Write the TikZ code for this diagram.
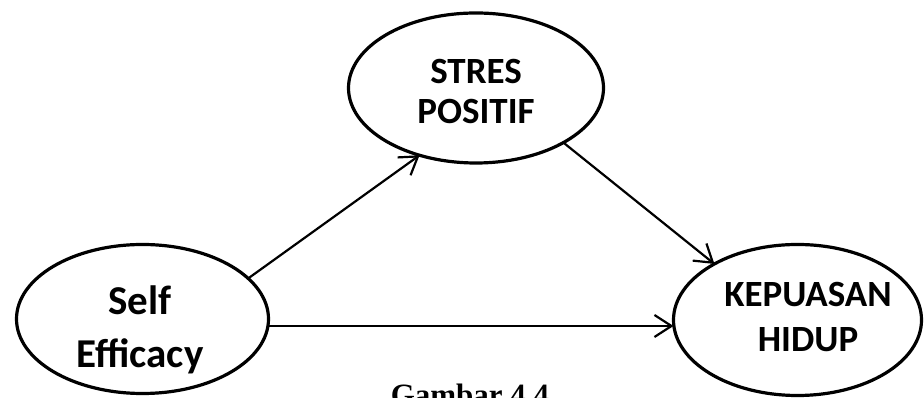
\documentclass[tikz,border=0pt]{standalone}
\usepackage{fontspec}
\setmainfont{Carlito}
\newfontfamily\capfont{Liberation Serif}
\usetikzlibrary{shapes.geometric,arrows.meta}
\tikzset{
  oval/.style={draw=black, line width=3.2pt, ellipse, inner sep=0pt, outer sep=0pt},
  lbl/.style={align=center, inner sep=0pt, font=\bfseries},
  arr/.style={draw=black, line width=2.2pt, -{Straight Barb[length=17pt,width=22pt]}}
}
\begin{document}
\begin{tikzpicture}[x=1pt,y=1pt]
\useasboundingbox (0,0) rectangle (924,398);
% ellipses
\node[oval, minimum width=252pt, minimum height=149pt] (se) at (142.5,79) {};
\node[oval, minimum width=255pt, minimum height=150pt] (sp) at (476,310) {};
\node[oval, minimum width=248pt, minimum height=151pt] (kh) at (797.5,78) {};
% labels
\node[lbl, font=\bfseries\fontsize{41}{53}\selectfont] (tse) at (140,68) {Self\\Efficacy};
\node[lbl, font=\bfseries\fontsize{37}{40}\selectfont] (tsp) at (476,306.5) {STRES\\POSITIF};
\node[lbl, font=\bfseries\fontsize{37}{45}\selectfont] (tkh) at (808,80.5) {KEPUASAN\\HIDUP};
% connectors
\draw[arr] (se.21) -- (sp.230);
\draw[arr] (sp.-32) -- (kh.146);
\draw[arr] ([yshift=-7pt]se.east) -- ([yshift=-6pt]kh.west);
% caption
\node[inner sep=0pt, anchor=north, font=\capfont\bfseries\fontsize{31}{36}\selectfont] (cap) at (470,14) {Gambar 4.4};
\end{tikzpicture}
\end{document}
